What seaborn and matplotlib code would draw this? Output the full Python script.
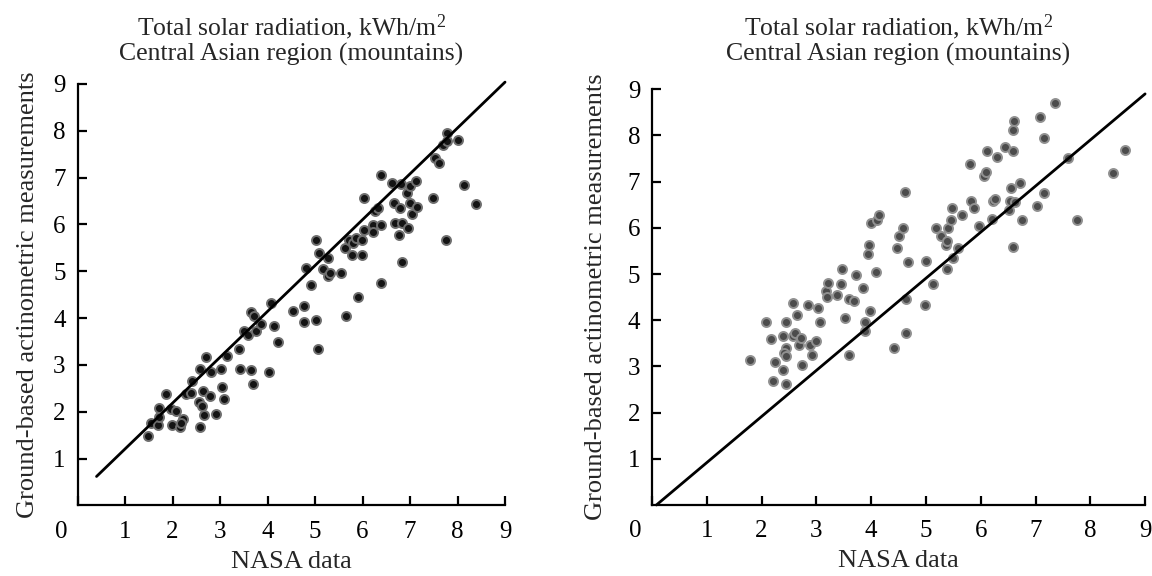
import matplotlib
matplotlib.use("Agg")
import matplotlib.pyplot as plt
import matplotlib.transforms as mtransforms
import seaborn as sns
import pandas as pd

# ---------------- data ----------------
left_x = [1.49, 1.54, 1.70, 1.72, 1.72, 1.87, 1.96, 2.07, 1.98, 2.15, 2.23, 2.18,
          2.28, 2.39, 2.42, 2.58, 2.70, 2.65, 2.55, 2.63, 2.67, 2.58, 2.79, 2.81,
          3.02, 3.04, 3.09, 2.92, 3.15, 3.39, 3.41, 3.51, 3.58, 3.65, 3.72, 3.75,
          3.87, 3.65, 3.70, 4.08, 4.13, 4.23, 4.03, 4.54, 4.77, 4.77, 4.82, 4.92,
          5.01, 5.01, 5.07, 5.08, 5.17, 5.28, 5.28, 5.32, 5.54, 5.63, 5.66, 5.72,
          5.78, 5.80, 5.87, 5.91, 5.98, 5.98, 6.03, 6.03, 6.21, 6.23, 6.26, 6.33,
          6.38, 6.39, 6.39, 6.63, 6.67, 6.68, 6.77, 6.79, 6.80, 6.84, 6.84, 6.93,
          6.96, 6.99, 6.99, 7.05, 7.13, 7.15, 7.48, 7.53, 7.61, 7.70, 7.77, 7.77,
          7.75, 8.01, 8.14, 8.39]
left_y = [1.48, 1.76, 1.72, 2.08, 1.90, 2.39, 2.05, 2.01, 1.72, 1.67, 1.85, 1.76,
          2.37, 2.40, 2.65, 2.91, 3.18, 2.44, 2.22, 2.12, 1.94, 1.67, 2.34, 2.86,
          2.92, 2.54, 2.27, 1.95, 3.20, 3.34, 2.92, 3.73, 3.64, 4.14, 4.04, 3.72,
          3.88, 2.90, 2.60, 4.32, 3.84, 3.50, 2.85, 4.16, 4.27, 3.92, 5.07, 4.71,
          5.66, 3.95, 3.34, 5.39, 5.05, 5.28, 4.90, 4.96, 4.96, 5.49, 4.05, 5.66,
          5.35, 5.61, 5.71, 4.46, 5.66, 5.34, 6.56, 5.88, 5.99, 5.85, 6.28, 6.35,
          7.06, 5.99, 4.76, 6.88, 6.45, 6.03, 5.78, 6.35, 6.86, 6.03, 5.20, 6.67,
          5.92, 6.45, 6.82, 6.23, 6.92, 6.37, 6.57, 7.41, 7.32, 7.70, 7.95, 7.79,
          5.67, 7.81, 6.84, 6.43]
left_line_x = [0.40, 9.00]
left_line_y = [0.62, 9.04]

right_x = [1.78, 2.08, 2.18, 2.20, 2.24, 2.39, 2.39, 2.44, 2.44, 2.41, 2.44, 2.44,
           2.58, 2.58, 2.61, 2.64, 2.68, 2.72, 2.73, 2.84, 2.88, 2.92, 3.00, 3.03,
           3.07, 3.18, 3.21, 3.19, 3.38, 3.45, 3.47, 3.53, 3.59, 3.68, 3.59, 3.72,
           3.85, 3.88, 3.89, 3.94, 3.96, 3.99, 3.97, 4.09, 4.11, 4.14, 4.41, 4.47,
           4.50, 4.58, 4.62, 4.64, 4.64, 4.68, 4.99, 5.01, 5.12, 5.18, 5.27, 5.36,
           5.38, 5.39, 5.41, 5.45, 5.47, 5.50, 5.58, 5.65, 5.80, 5.82, 5.87, 5.96,
           6.06, 6.09, 6.11, 6.20, 6.22, 6.26, 6.29, 6.44, 6.52, 6.53, 6.56, 6.59,
           6.59, 6.61, 6.59, 6.62, 6.71, 6.75, 7.03, 7.08, 7.16, 7.16, 7.35, 7.59,
           7.75, 8.42, 8.64]
right_y = [3.13, 3.96, 3.59, 2.69, 3.09, 3.65, 2.93, 3.96, 3.39, 3.29, 3.23, 2.61,
           4.38, 3.65, 3.72, 4.12, 3.47, 3.61, 3.02, 4.32, 3.47, 3.25, 3.54, 4.26,
           3.97, 4.64, 4.80, 4.51, 4.55, 4.79, 5.10, 4.04, 4.45, 4.42, 3.25, 4.97,
           4.69, 3.96, 3.77, 5.44, 5.63, 6.10, 4.21, 5.05, 6.17, 6.27, 3.39, 5.56,
           5.83, 5.99, 6.78, 4.45, 3.72, 5.26, 4.32, 5.29, 4.78, 5.99, 5.83, 5.63,
           5.10, 5.72, 5.99, 6.17, 6.42, 5.34, 5.56, 6.28, 7.38, 6.58, 6.42, 6.05,
           7.12, 7.20, 7.67, 6.19, 6.58, 6.63, 7.54, 7.74, 6.39, 6.58, 6.86, 5.59,
           7.67, 8.32, 8.11, 6.55, 6.97, 6.16, 6.47, 8.39, 7.94, 6.75, 8.71, 7.52,
           6.16, 7.18, 7.69]
right_line_x = [0.08, 9.00]
right_line_y = [0.00, 8.90]

tick_values = [0, 1, 2, 3, 4, 5, 6, 7, 8, 9]
tick_labels = ["0", "1", "2", "3", "4", "5", "6", "7", "8", "9"]
ytick_values = [1, 2, 3, 4, 5, 6, 7, 8, 9]
ytick_labels = ["1", "2", "3", "4", "5", "6", "7", "8", "9"]

title_text = "Total solar radiation, kWh/m$^{\\mathrm{2}}$\nCentral Asian region (mountains)"
xlabel_text = "NASA data"
ylabel_text = "Ground-based actinometric measurements"

# ---------------- style ----------------
sns.set_theme(style="ticks")
plt.rcParams["font.family"] = ["Liberation Serif", "DejaVu Serif"]
plt.rcParams["mathtext.fontset"] = "custom"
plt.rcParams["mathtext.rm"] = "Liberation Serif"
plt.rcParams["mathtext.it"] = "Liberation Serif:italic"
plt.rcParams["mathtext.bf"] = "Liberation Serif:bold"

fig = plt.figure(figsize=(11.52, 5.76), dpi=100)
ax1 = fig.add_axes([0.0673, 0.1224, 0.3711, 0.7318])
ax2 = fig.add_axes([0.5660, 0.1233, 0.4280, 0.7217])

panels = [
    (ax1, left_x, left_y, left_line_x, left_line_y, "#141414", "#6e6e6e", 17.0),
    (ax2, right_x, right_y, right_line_x, right_line_y, "#4c4c4c", "#909090", 20.6),
]

for ax, xs, ys, lx, ly, fc, ec, tpad in panels:
    df = pd.DataFrame({"x": xs, "y": ys})
    sns.scatterplot(data=df, x="x", y="y", ax=ax, s=42, color=fc,
                    edgecolor=ec, linewidth=1.4, zorder=3)
    ldf = pd.DataFrame({"x": lx, "y": ly})
    sns.lineplot(data=ldf, x="x", y="y", ax=ax, color="black", linewidth=2.0,
                 zorder=4, clip_on=False)
    ax.set_xlim(0, 9)
    ax.set_ylim(0, 9)
    sns.despine(ax=ax)
    for sp in ["left", "bottom"]:
        ax.spines[sp].set_linewidth(1.6)
        ax.spines[sp].set_color("black")
    ax.set_xticks(tick_values)
    ax.set_xticklabels(tick_labels)
    ax.set_yticks(ytick_values)
    ax.set_yticklabels(ytick_labels)
    ax.tick_params(axis="both", direction="in", length=6.5, width=1.6,
                   colors="black", labelsize=18)
    ax.tick_params(axis="x", pad=11)
    ax.tick_params(axis="y", pad=8.5)
    # shift the "0" x-label to the corner (under the y tick label column)
    lab0 = ax.get_xticklabels()[0]
    lab0.set_transform(lab0.get_transform() +
                       mtransforms.ScaledTranslation(-16.5 / 100, 0, fig.dpi_scale_trans))
    ax.set_xlabel(xlabel_text, fontsize=19)
    ax.set_ylabel(ylabel_text, fontsize=19)
    ax.xaxis.set_label_coords(0.5, -0.108)
    ax.yaxis.set_label_coords(-0.091, 0.5)
    ax.set_title(title_text, fontsize=18.5, linespacing=1.05, pad=tpad)
    ax.grid(False)

fig.savefig("out.png", dpi=100)
